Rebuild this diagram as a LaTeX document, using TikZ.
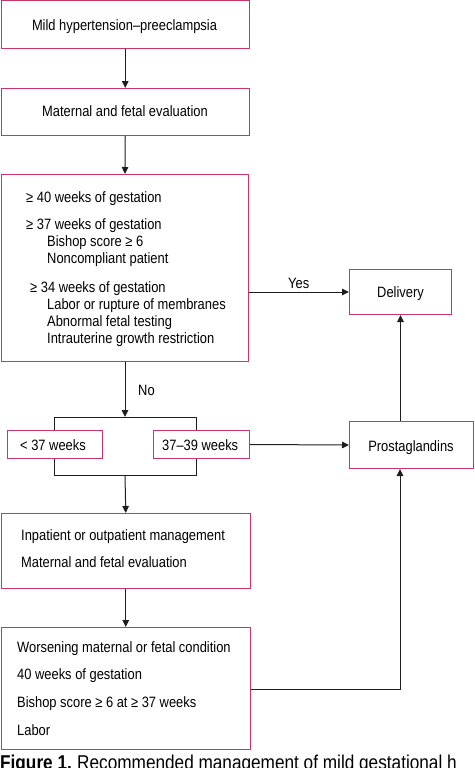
\documentclass[tikz,border=0pt]{standalone}
\usepackage{fontspec}
\setmainfont{Liberation Sans}[FakeStretch=0.86]
\usetikzlibrary{arrows.meta,calc}
\definecolor{boxc}{RGB}{204,52,100}
\definecolor{linec}{RGB}{30,30,30}
\begin{document}
\begin{tikzpicture}[x=1pt,y=-1pt,
  box/.style={draw=boxc,line width=1pt,inner sep=0pt,anchor=north west},
  txt/.style={inner sep=0pt,anchor=base west,font=\fontsize{15}{18}\selectfont},
  ctxt/.style={inner sep=0pt,anchor=base,font=\fontsize{15}{18}\selectfont},
  captxt/.style={inner sep=0pt,anchor=base west,font=\fontsize{20}{24}\selectfont},
  conn/.style={draw=linec,line width=1pt},
  arr/.style={conn,-{Triangle[length=7pt,width=6.5pt]}}]
\useasboundingbox (0,0) rectangle (474,768);
\begin{scope}
\clip (0,0) rectangle (474,768);
% boxes
\node[box,minimum width=248.5pt,minimum height=47.5pt] (b1) at (0.5,0.5) {};
\node[box,minimum width=248.5pt,minimum height=47pt] (b2) at (0.5,88) {};
\node[box,minimum width=247pt,minimum height=187pt] (b3) at (1,174) {};
\node[box,minimum width=102pt,minimum height=45pt] (del) at (349,269) {};
\node[box,minimum width=124pt,minimum height=47pt] (pg) at (349,421) {};
\node[box,minimum width=95pt,minimum height=28pt] (lt) at (7,430) {};
\node[box,minimum width=96pt,minimum height=28pt] (mid) at (153,430) {};
\node[box,minimum width=249.5pt,minimum height=75pt] (inp) at (0.5,513) {};
\node[box,minimum width=249.5pt,minimum height=122pt] (wor) at (0.5,627) {};
% texts
\node[ctxt] (t1) at (124.5,30.7) {Mild hypertension–preeclampsia};
\node[ctxt] (t2) at (125,116.7) {Maternal and fetal evaluation};
\node[txt] (t3a) at (26,202) {≥ 40 weeks of gestation};
\node[txt] (t3b) at (26,229) {≥ 37 weeks of gestation};
\node[txt] (t3c) at (47,246) {Bishop score ≥ 6};
\node[txt] (t3d) at (47,263) {Noncompliant patient};
\node[txt] (t3e) at (30,292) {≥ 34 weeks of gestation};
\node[txt] (t3f) at (47,309) {Labor or rupture of membranes};
\node[txt] (t3g) at (47,326) {Abnormal fetal testing};
\node[txt] (t3h) at (47,343) {Intrauterine growth restriction};
\node[ctxt] (tdel) at (400.5,297) {Delivery};
\node[ctxt] (tpg) at (411,451) {Prostaglandins};
\node[txt] (tlt) at (20,450) {< 37 weeks};
\node[txt] (tmid) at (162,450) {37–39 weeks};
\node[txt] (tyes) at (288,288) {Yes};
\node[txt] (tno) at (138,395) {No};
\node[txt] (ti1) at (21,540) {Inpatient or outpatient management};
\node[txt] (ti2) at (21,567) {Maternal and fetal evaluation};
\node[txt] (tw1) at (17,652) {Worsening maternal or fetal condition};
\node[txt] (tw2) at (17,679) {40 weeks of gestation};
\node[txt] (tw3) at (17,707) {Bishop score ≥ 6 at ≥ 37 weeks};
\node[txt] (tw4) at (17,735) {Labor};
\node[captxt] (capa) at (0,769.5) {\textbf{Figure 1.}};
\node[captxt] (capb) at (77,769.5) {Recommended management of mild gestational h};
% coordinates
\coordinate (bt) at (125,417);
\coordinate (btl) at (54,417);
\coordinate (btr) at (196,417);
\coordinate (bb) at (125,475);
\coordinate (bbl) at (54,475);
\coordinate (bbr) at (196,475);
\coordinate (wc) at (400,689);
% connectors
\draw[arr] (b1.south) -- (b2.north);
\draw[arr] (b2.south) -- (b3.north);
\draw[arr] (b3.east |- del.west) -- (del.west);
\draw[arr] (b3.south) -- (bt);
\draw[conn] (lt.north -| btl) -- (btl) -- (btr) -- (mid.north -| btr);
\draw[conn] (lt.south -| bbl) -- (bbl) -- (bbr) -- (mid.south -| bbr);
\draw[arr] (bb) -- (inp.north);
\draw[arr] (mid.east) -- (pg.west -| pg.west);
\draw[arr] (pg.north -| del.south) -- (del.south);
\draw[arr] (inp.south) -- (wor.north);
\draw[arr] (wor.east |- wc) -- (wc) -- (pg.south -| wc);
\end{scope}
\end{tikzpicture}
\end{document}
